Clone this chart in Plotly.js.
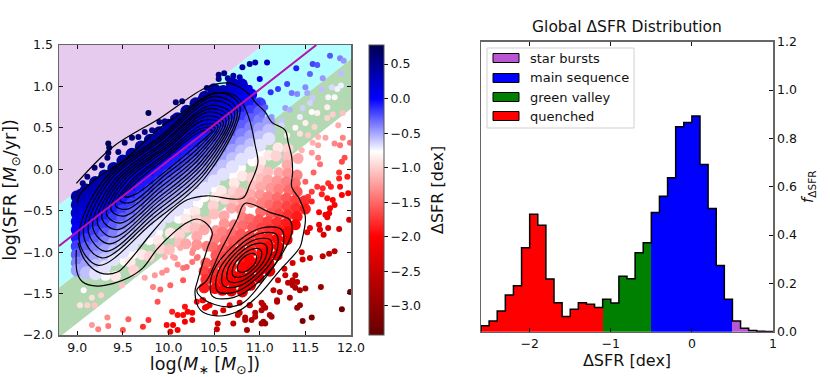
<!DOCTYPE html>
<html>
<head>
<meta charset="utf-8">
<script src="https://cdn.plot.ly/plotly-3.0.1.min.js"></script>
<style>body{margin:0;background:#fff}#plot{width:830px;height:377px}</style>
</head>
<body>
<div id="plot"></div>
<script>
const _ = null;

// region bands, log(M*) vs log(SFR)
const burstBandX = [8.8, 11.04, 8.8];
const burstBandY = [-0.43, 1.5, 1.5];
const mainBandX = [8.8, 11.04, 12, 12, 8.8];
const mainBandY = [-0.43, 1.5, 1.5, 1.33, -1.43];
const greenBandX = [8.8, 12, 12, 8.8];
const greenBandY = [-1.43, 1.33, 0.73, -2.03];
const seqLineX = [8.8, 11.62];
const seqLineY = [-0.926, 1.5];

const gridX = [9.0,9.1,9.2,9.3,9.4,9.5,9.6,9.7,9.8,9.9,10.0,10.1,10.2,10.3,10.4,10.5,10.6,10.7,10.8,10.9,11.0,11.1];
const gridD = [0.42,0.32,0.22,0.12,0.02,-0.08,-0.18,-0.28,-0.38,-0.48,-0.58,-0.68];
const gridY = [
  [-.33,-.25,-.16,-.08,.01,.10,.18,.27,.35,.44,.53,.61,.70,.79,.87,.96],
  [-.43,-.35,-.26,-.18,-.09,0,.08,.17,.25,.34,.43,.51,.60,.69,.77,.86,.94,1.03],
  [-.53,-.45,-.36,-.28,-.19,-.10,-.02,.07,.15,.24,.33,.41,.50,.59,.67,.76,.84,.93,1.02],
  [-.63,-.55,-.46,-.38,-.29,-.20,-.12,-.03,.05,.14,.23,.31,.40,.49,.57,.66,.74,.83,.92],
  [-.73,-.65,-.56,-.48,-.39,-.30,-.22,-.13,-.05,.04,.13,.21,.30,.39,.47,.56,.64,.73,.82,.90],
  [-.83,-.75,-.66,-.58,-.49,-.40,-.32,-.23,-.15,-.06,.03,.11,.20,.29,.37,.46,.54,.63,.72,.80],
  [-.93,-.85,-.76,-.68,-.59,-.50,-.42,-.33,-.25,-.16,-.07,.01,.10,.19,.27,.36,.44,.53,.62,.70,.79],
  [-1.03,-.95,-.86,-.78,-.69,-.60,-.52,-.43,-.35,-.26,-.17,-.09,0,.09,.17,.26,.34,.43,.52,.60,.69],
  [-1.13,-1.05,-.96,-.88,-.79,-.70,-.62,-.53,-.45,-.36,-.27,-.19,-.10,-.01,.07,.16,.24,.33,.42,.50,.59],
  [-1.22,-1.15,-1.06,-.98,-.89,-.80,-.72,-.63,-.55,-.46,-.37,-.29,-.20,-.11,-.03,.06,.14,.23,.32,.40,.49,.57],
  [_,-1.25,-1.16,-1.08,-.99,-.90,-.82,-.73,-.65,-.56,-.47,-.39,-.30,-.21,-.13,-.04,.04,.13,.22,.30,.39,.47],
  [_,_,-1.26,-1.18,-1.09,-1.00,-.92,-.83,-.75,-.66,-.57,-.49,-.40,-.31,-.23,-.14,-.06,.03,.12,.20,.29,.37]
];

// paler and red rows, with gaps where the reference shows them
const rowD = [-0.78,-0.88,-0.98,-1.08,-1.18,-1.28,-1.38,-1.48,-1.58,-1.68,-1.78,-1.88,-1.98,-2.08,-2.18,-2.28];
const rowX = [
  [9.31,9.52,9.61,9.79,9.88,10.11,10.21,10.32,10.39,10.52,10.71,10.79,10.92,11.02],
  [9.42,9.58,9.71,9.89,10.02,10.19,10.29,10.51,10.58,10.72,10.81,11.01,11.1,11.2],
  [9.62,9.79,9.91,10.12,10.2,10.31,10.49,10.62,10.71,10.91,11.0,11.18,11.31],
  [10.01,10.12,10.29,10.41,10.5,10.72,10.79,10.92,11.02,11.09,11.31],
  [10.19,10.31,10.39,10.61,10.69,10.82,10.9,11.01,11.09,11.21,11.3,11.42],
  [10.31,10.52,10.61,10.79,10.91,11.0,11.12,11.19,11.31],
  [10.42,10.51,10.59,10.72,10.81,11.02,11.09,11.21,11.29,11.41],
  [10.49,10.62,10.69,10.81,10.89,11.01,11.11,11.19,11.32,11.39],
  [10.41,10.52,10.59,10.71,10.79,10.92,10.99,11.12,11.2,11.29,11.41],
  [10.39,10.51,10.62,10.69,10.81,10.89,11.02,11.09,11.21,11.3,11.39],
  [10.41,10.49,10.61,10.71,10.79,10.91,11.0,11.11,11.19,11.31,11.4,11.49],
  [10.39,10.52,10.59,10.69,10.82,10.9,11.01,11.09,11.21,11.29,11.41,11.5],
  [10.51,10.61,10.69,10.81,10.89,11.02,11.1,11.19,11.31,11.39],
  [10.59,10.71,10.79,10.91,11.0,11.09,11.21,11.3],
  [10.69,10.81,10.89,11.01,11.1,11.19],
  [10.81,10.9,10.99,11.11]
];
const rowY = [
  [-1.28,-1.10,-1.02,-.85,-.76,-.59,-.50,-.41,-.33,-.24,-.07,.02,.10,.19],
  [-1.29,-1.12,-1.03,-.86,-.77,-.60,-.51,-.34,-.26,-.17,-.08,.09,.17,.26],
  [-1.22,-1.05,-.96,-.79,-.70,-.61,-.44,-.36,-.27,-.10,-.01,.16,.25],
  [-.97,-.89,-.71,-.63,-.54,-.37,-.28,-.20,-.11,-.03,.15],
  [-.90,-.81,-.73,-.56,-.47,-.38,-.30,-.21,-.13,-.04,.05,.13],
  [-.91,-.74,-.66,-.48,-.40,-.31,-.23,-.14,-.05],
  [-.93,-.84,-.76,-.67,-.58,-.41,-.33,-.24,-.15,-.07],
  [-.94,-.86,-.77,-.68,-.60,-.51,-.43,-.34,-.25,-.17],
  [-1.13,-1.04,-.96,-.87,-.78,-.70,-.61,-.53,-.44,-.35,-.27],
  [-1.23,-1.14,-1.06,-.97,-.88,-.80,-.71,-.63,-.54,-.45,-.37],
  [-1.33,-1.24,-1.16,-1.07,-.98,-.90,-.81,-.73,-.64,-.55,-.47,-.38],
  [-1.43,-1.34,-1.26,-1.17,-1.08,-1.00,-.91,-.83,-.74,-.65,-.57,-.48],
  [-1.44,-1.36,-1.27,-1.18,-1.10,-1.01,-.93,-.84,-.75,-.67],
  [-1.46,-1.37,-1.28,-1.20,-1.11,-1.03,-.94,-.85],
  [-1.47,-1.38,-1.30,-1.21,-1.13,-1.04],
  [-1.48,-1.40,-1.31,-1.23]
];

// single galaxies that can be told apart
const pointX = [9.78,10.08,10.15,9.34,9.35,9.34,9.33,9.27,9.19,9.11,9.06,9.03,9.45,9.52,9.60,9.67,9.74,9.82,9.90,9.96,10.05,10.29,10.35,10.42,10.55,10.61,10.55,10.54,10.71,10.78,10.81,10.65,10.78,10.89,10.71,
  10.89,10.95,11.08,11.0,11.40,11.58,11.63,11.77,11.88,11.92,11.55,11.69,11.89,10.88,11.12,11.2,11.30,11.35,11.41,11.50,11.52,11.68,11.79,11.89,11.85,11.75,11.82,11.58,11.55,11.47,11.28,11.33,11.06,10.98,11.02,11.13,11.24,11.44,11.63,11.57,11.74,11.74,11.8,11.91,11.5,11.6,11.39,11.24,11.3,11.44,11.53,11.64,11.86,11.72,11.91,11.58,11.82,
  11.88,11.99,11.46,11.57,11.64,11.64,11.66,11.9,11.93,11.59,11.87,11.96,11.87,11.75,11.78,11.88,11.50,11.63,11.57,11.69,11.68,11.9,11.97,11.53,11.74,11.8,11.57,11.82,11.77,11.65,11.72,11.74,11.98,11.55,11.65,11.75,11.87,11.52,11.7,
  11.67,11.99,11.9,11.57,11.47,11.44,11.41,11.5,11.39,11.36,11.39,11.33,11.22,11.15,11.19,11.13,11.04,11.04,10.95,10.84,10.71,10.54,10.53,10.86,11.06,11.02,10.89,10.78,11.36,11.27,11.46,11.47,11.55,11.69,11.76,11.82,11.2,11.44,11.36,11.66,11.76,
  10.18,10.16,10.21,10.10,10.26,10.18,10.05,9.98,10.10,10.02,9.72,10.42,10.40,10.45,10.37,10.31,10.38,10.26,10.51,10.60,10.67,10.78,10.89,11.02,11.06,10.95,10.76,10.84,10.91,11.02,11.11,11.19,11.31,11.41,11.28,
  9.83,9.91,10.02,10.07,10.16,10.26,9.74,10.16,10.27,10.32,9.07,9.16,9.26,9.03,9.11,9.19,9.16,9.23,9.33,9.34,9.50,9.56,9.78,9.85,9.93,9.98,9.88,10.04,10.10,10.2,10.05,10.13,10.26,10.31,9.96,9.49];
const pointY = [.68,.81,.82,.31,.26,.20,.14,.05,.02,-.09,-.17,-.27,.21,.32,.38,.39,.45,.47,.57,.58,.62,.80,.85,.98,1.14,1.16,1.09,.96,1.13,1.11,1.23,1.10,.92,.98,.90,
  1.27,1.29,1.29,1.09,1.22,1.27,1.26,1.37,1.34,1.31,1.15,1.10,1.16,.98,.93,.97,1.03,.92,.91,.99,.92,.97,.99,1.01,.97,.87,.87,.86,.80,.74,.74,.72,.75,.81,.66,.63,.59,.63,.68,.69,.75,.62,.66,.68,.56,.51,.50,.53,.41,.43,.41,.39,.53,.38,.38,.32,.31,
  .29,.32,.23,.20,.29,.14,.06,.09,.14,-.04,-.04,-.09,-.11,-.17,-.21,-.21,-.15,-.21,-.27,-.23,-.30,-.31,-.29,-.33,-.35,-.37,-.39,-.43,-.47,-.52,-.55,-.58,-.61,-.71,-.67,-.71,-.72,-.76,-.79,
  -1.42,-1.48,-1.69,-1.79,-1.83,-1.64,-1.67,-1.44,-1.43,-1.34,-1.28,-1.55,-1.48,-1.46,-1.60,-1.78,-1.64,-1.84,-1.78,-1.82,-1.86,-1.86,-1.93,-1.94,-1.86,-1.70,-1.64,-1.73,-1.13,-1.20,-1.00,-1.09,-1.07,-1.05,-1.02,-.99,-1.34,-1.46,-1.40,-.73,-.53,
  -1.66,-1.76,-1.72,-1.76,-1.82,-1.84,-1.88,-1.88,-1.94,-1.96,-1.90,-1.66,-1.67,-1.64,-1.58,-1.60,-1.58,-1.73,-1.73,-1.70,-1.64,-1.61,-1.64,-1.61,-1.67,-1.73,-1.76,-1.79,-1.82,-1.86,-1.76,-1.58,-1.37,-1.36,-1.28,
  -1.42,-1.45,-1.40,-1.07,-1.19,-1.12,-1.31,-1.34,-.97,-1.06,-1.46,-1.55,-1.52,-1.64,-1.64,-1.64,-1.88,-1.93,-1.79,-1.89,-1.94,-1.81,-1.82,-1.28,-1.25,-1.22,-1.60,-1.72,-1.15,-1.18,-1.06,-.95,-1.01,-1.07,-1.06,-1.40];
const pointD = [.75,.63,.58,.75,.71,.66,.62,.57,.60,.57,.53,.46,.58,.63,.62,.57,.57,.52,.55,.51,.47,.44,.44,.51,.56,.53,.51,.39,.41,.33,.43,.43,.14,.10,.18,
  .40,.36,.25,.12,-.09,-.20,-.25,-.26,-.39,-.45,-.29,-.46,-.57,.12,-.14,-.17,-.20,-.35,-.41,-.41,-.50,-.58,-.66,-.72,-.73,-.74,-.80,-.61,-.64,-.63,-.47,-.53,-.27,-.14,-.33,-.45,-.59,-.72,-.83,-.77,-.85,-.98,-1.0,-1.07,-.84,-.98,-.80,-.65,-.82,-.92,-1.02,-1.13,-1.18,-1.21,-1.37,-1.15,-1.36,
  -1.44,-1.50,-1.13,-1.26,-1.23,-1.38,-1.48,-1.65,-1.63,-1.52,-1.76,-1.88,-1.83,-1.78,-1.85,-1.94,-1.55,-1.72,-1.73,-1.79,-1.85,-2.05,-2.09,-1.75,-1.95,-2.03,-1.85,-2.10,-2.10,-2.05,-2.14,-2.18,-2.42,-2.15,-2.20,-2.32,-2.44,-2.18,-2.36,
  -2.96,-3.30,-3.40,-3.25,-3.20,-2.99,-2.99,-2.84,-2.73,-2.62,-2.58,-2.80,-2.64,-2.56,-2.73,-2.86,-2.64,-2.84,-2.71,-2.65,-2.58,-2.43,-2.49,-2.79,-2.88,-2.69,-2.51,-2.51,-2.41,-2.40,-2.37,-2.46,-2.51,-2.61,-2.64,-2.66,-2.48,-2.81,-2.68,-2.27,-2.15,
  -1.92,-2.00,-2.01,-1.95,-2.15,-2.10,-2.03,-1.97,-2.13,-2.08,-1.77,-2.13,-2.12,-2.13,-2.01,-1.97,-2.01,-2.06,-2.28,-2.32,-2.32,-2.39,-2.51,-2.60,-2.69,-2.66,-2.52,-2.62,-2.71,-2.85,-2.82,-2.71,-2.61,-2.68,-2.49,
  -1.38,-1.48,-1.52,-1.24,-1.43,-1.45,-1.19,-1.58,-1.31,-1.44,-.77,-.93,-.99,-.91,-.98,-1.05,-1.26,-1.38,-1.32,-1.43,-1.62,-1.54,-1.74,-1.26,-1.30,-1.31,-1.60,-1.86,-1.34,-1.46,-1.21,-1.17,-1.34,-1.44,-1.13,-1.07];

// nested density contours over the main sequence, innermost first
const seqContourX = [
  [9.52,9.64,9.95,10.29,10.48,10.34,10.0,9.66,9.52],
  [9.47,9.59,9.94,10.30,10.51,10.35,9.99,9.63,9.47],
  [9.42,9.55,9.92,10.32,10.54,10.37,9.98,9.59,9.42],
  [9.37,9.51,9.91,10.33,10.57,10.39,9.97,9.55,9.37],
  [9.32,9.47,9.90,10.34,10.60,10.41,9.96,9.51,9.32],
  [9.27,9.43,9.88,10.36,10.63,10.43,9.95,9.47,9.27],
  [9.22,9.39,9.87,10.37,10.66,10.44,9.94,9.44,9.22],
  [9.17,9.35,9.85,10.39,10.69,10.46,9.93,9.40,9.17],
  [9.12,9.31,9.84,10.40,10.72,10.48,9.92,9.36,9.12],
  [9.07,9.27,9.83,10.41,10.75,10.50,9.91,9.32,9.07],
  [9.02,9.23,9.81,10.43,10.78,10.52,9.90,9.28,9.02]
];
const seqContourY = [
  [-.33,-.30,-.04,.27,.47,.45,.16,-.14,-.33],
  [-.38,-.40,-.09,.23,.50,.49,.18,-.13,-.38],
  [-.44,-.48,-.16,.20,.52,.535,.20,-.14,-.44],
  [-.485,-.565,-.22,.166,.55,.593,.231,-.13,-.485],
  [-.54,-.65,-.28,.13,.57,.64,.25,-.135,-.54],
  [-.59,-.73,-.35,.10,.60,.69,.27,-.14,-.59],
  [-.645,-.82,-.405,.066,.63,.73,.295,-.135,-.645],
  [-.70,-.90,-.47,.04,.66,.77,.317,-.14,-.70],
  [-.745,-.99,-.53,0,.70,.83,.35,-.135,-.745],
  [-.80,-1.07,-.59,-.035,.72,.88,.37,-.14,-.80],
  [-.85,-1.16,-.66,-.06,.77,.925,.39,-.14,-.85]
];
// second level, open at the left edge
const secondX = [9.01,9.08,9.25,9.44,9.58,9.80,10.02,10.20,10.42,10.81,10.89,10.98,10.95,10.89,10.81,10.71,10.53,10.35,10.16,9.94,9.5,9.2,9.03,9.0];
const secondY = [-.89,-1.09,-1.25,-1.24,-1.09,-.79,-.52,-.37,-.32,-.35,-.19,.08,.29,.59,.80,.90,.92,.84,.69,.53,.10,-.12,-.30,-.40];
// outermost level, runs round both peaks
const outerX = [8.99,9.39,9.91,10.42,10.67,10.78,10.89,10.95,11.06,11.13,11.28,11.31,11.35,11.36,11.35,11.44,11.5,11.47,11.44,11.22,10.97,10.75,10.53,10.35,10.29,10.32,10.43,10.48,10.40,10.31,10.21,10.05,9.87,9.72,9.56,9.39,9.22,9.06,9.0,8.99];
const outerY = [-.17,.27,.62,.99,1.04,.99,.90,.81,.69,.57,.47,.33,.15,-.04,-.21,-.37,-.58,-.82,-.94,-1.22,-1.54,-1.72,-1.77,-1.70,-1.49,-1.34,-.94,-.77,-.64,-.60,-.64,-.77,-.97,-1.19,-1.31,-1.38,-1.41,-1.36,-1.25,-.97];
// contours round the quenched peak, outermost first
const redContourX = [
  [10.84,11.11,11.33,11.35,11.25,11.04,10.82,10.64,10.40,10.31,10.42,10.56,10.75,10.84],
  [11.239,11.245,11.026,10.709,10.481,10.475,10.694,11.011,11.239],
  [11.183,11.184,10.996,10.728,10.537,10.536,10.724,10.992,11.183],
  [11.12,11.124,10.973,10.756,10.60,10.596,10.747,10.964,11.12],
  [11.065,11.069,10.951,10.779,10.655,10.651,10.769,10.941,11.065],
  [11.01,11.014,10.928,10.802,10.71,10.706,10.792,10.918,11.01],
  [10.955,10.962,10.909,10.828,10.765,10.758,10.811,10.892,10.955]
];
const redContourY = [
  [-.41,-.52,-.61,-.77,-1.01,-1.34,-1.61,-1.66,-1.58,-1.46,-1.34,-1.01,-.61,-.41],
  [-.73,-.982,-1.321,-1.548,-1.53,-1.278,-.939,-.712,-.73],
  [-.788,-.998,-1.286,-1.482,-1.472,-1.262,-.974,-.778,-.788],
  [-.855,-1.028,-1.26,-1.416,-1.405,-1.232,-1.0,-.844,-.855],
  [-.913,-1.051,-1.234,-1.357,-1.347,-1.209,-1.026,-.903,-.913],
  [-.972,-1.073,-1.208,-1.297,-1.288,-1.187,-1.052,-.963,-.972],
  [-1.03,-1.10,-1.186,-1.241,-1.23,-1.161,-1.074,-1.019,-1.03]
];

// histogram, left bin edges and heights
const quenchedEdges = [-2.6,-2.5,-2.4,-2.3,-2.2,-2.1,-2.0,-1.9,-1.8,-1.7,-1.6,-1.5,-1.4,-1.3,-1.2];
const quenchedVals = [.025,.044,.086,.152,.19,.347,.486,.441,.218,.12,.063,.093,.12,.114,.10];
const greenEdges = [-1.1,-1.0,-.9,-.8,-.7,-.6];
const greenVals = [.134,.119,.229,.219,.327,.368];
const mainEdges = [-.5,-.4,-.3,-.2,-.1,0,.1,.2,.3,.4];
const mainVals = [.493,.56,.637,.848,.866,.893,.692,.51,.274,.134];
const burstEdges = [.5,.6,.7,.8,.9];
const burstVals = [.044,.014,.005,.002,.001];

const legendNames = ['star bursts','main sequence','green valley','quenched'];
const legendColors = ['#ba55d3','#0000ff','#008000','#ff0000'];
const legendRows = [58,78,97,116];

const W = 830, H = 377;
var traces = [];

function band(x, y, color){
  return {x:x, y:y, xaxis:'x', yaxis:'y', mode:'lines', fill:'toself', fillcolor:color, line:{width:0}, hoverinfo:'skip'};
}
traces.push(band(burstBandX, burstBandY, '#e6cbee'));
traces.push(band(mainBandX, mainBandY, '#b3ffff'));
traces.push(band(greenBandX, greenBandY, '#b3d9b3'));

function cloud(x, y, d, size){
  return {x:x, y:y, xaxis:'x', yaxis:'y', mode:'markers', hoverinfo:'skip',
    marker:{size:size, color:d, coloraxis:'coloraxis', line:{width:0}}};
}
var rx = [], ry = [], rd = [];
rowY.forEach(function(row, i){
  row.forEach(function(v, j){ rx.push(rowX[i][j]); ry.push(v); rd.push(rowD[i]); });
});
traces.push(cloud(rx, ry, rd, 11));
var gx = [], gy = [], gd = [];
gridY.forEach(function(row, i){
  row.forEach(function(v, j){ gx.push(gridX[j]); gy.push(v); gd.push(gridD[i]); });
});
traces.push(cloud(gx, gy, gd, 13));
traces.push(cloud(pointX, pointY, pointD, 6));

function contour(x, y){
  return {x:x, y:y, xaxis:'x', yaxis:'y', mode:'lines', hoverinfo:'skip',
    line:{color:'#000', width:1.2, shape:'spline', smoothing:1}};
}
seqContourX.forEach(function(x, i){ traces.push(contour(x, seqContourY[i])); });
redContourX.forEach(function(x, i){ traces.push(contour(x, redContourY[i])); });
traces.push(contour(secondX, secondY));
traces.push(contour(outerX, outerY));
traces.push({x:seqLineX, y:seqLineY, xaxis:'x', yaxis:'y', mode:'lines', hoverinfo:'skip', line:{color:'#b80fb0', width:2}});

function bars(edges, vals, color){
  return {type:'bar', x:edges, y:vals, xaxis:'x2', yaxis:'y2', width:0.1, offset:0,
    marker:{color:color, line:{width:0}}, hoverinfo:'skip'};
}
traces.push(bars(quenchedEdges, quenchedVals, legendColors[3]));
traces.push(bars(greenEdges, greenVals, legendColors[2]));
traces.push(bars(mainEdges, mainVals, legendColors[1]));
traces.push(bars(burstEdges, burstVals, legendColors[0]));

// black step outline over the bars
var allEdges = quenchedEdges.concat(greenEdges, mainEdges, burstEdges);
var allVals = quenchedVals.concat(greenVals, mainVals, burstVals);
traces.push({x:[-2.6].concat(allEdges, [1.0]), y:[0].concat(allVals, [0]), xaxis:'x2', yaxis:'y2',
  mode:'lines', hoverinfo:'skip', line:{color:'#000', width:1.5, shape:'hv'}, cliponaxis:true});

var shapes = [{type:'rect', xref:'paper', yref:'paper', layer:'above',
  x0:487/W, x1:634/W, y0:1-128/H, y1:1-48/H, fillcolor:'rgba(255,255,255,0.85)', line:{color:'#d0d0d0', width:1}}];
var annotations = [{xref:'paper', yref:'paper', x:437/W, y:1-190/H, xanchor:'center', yanchor:'middle',
  showarrow:false, textangle:-90, text:'ΔSFR [dex]', font:{size:16, color:'#111'}}];
legendNames.forEach(function(name, i){
  var r = legendRows[i];
  shapes.push({type:'rect', xref:'paper', yref:'paper', layer:'above',
    x0:493/W, x1:519/W, y0:1-(r+4.5)/H, y1:1-(r-4.5)/H, fillcolor:legendColors[i], line:{color:'#000', width:1}});
  annotations.push({xref:'paper', yref:'paper', x:528/W, y:1-r/H, xanchor:'left', yanchor:'middle',
    showarrow:false, text:name, font:{size:13, color:'#111'}});
});

var axisLine = {showline:true, linecolor:'#666', linewidth:1.5, showgrid:false, zeroline:false,
  ticks:'inside', ticklen:4, tickwidth:1, tickcolor:'#111', tickfont:{size:12.5, color:'#111'}};

var layout = {
  width:W, height:H, margin:{l:0, r:0, t:0, b:0}, showlegend:false, hovermode:false,
  paper_bgcolor:'#fff', plot_bgcolor:'#fff', barmode:'overlay', bargap:0,
  font:{family:'"DejaVu Sans", sans-serif', color:'#111'},
  title:{text:'Global ΔSFR Distribution', x:627/W, xanchor:'center', y:1-27/H, yanchor:'middle', font:{size:15.5, color:'#111'}},
  coloraxis:{cmin:-3.42, cmax:0.775,
    colorscale:[[0,'#650000'],[0.3385,'#ff0000'],[0.632,'#ffffff'],[0.815,'#0000ff'],[1,'#000050']],
    colorbar:{x:369/W, xanchor:'left', y:1-335/H, yanchor:'bottom', len:290/H, lenmode:'fraction',
      thickness:15, thicknessmode:'pixels', xpad:0, ypad:0, outlinecolor:'#555', outlinewidth:1,
      tickvals:[0.5,0,-0.5,-1,-1.5,-2,-2.5,-3], tickformat:'.1f', ticks:'outside', ticklen:4, tickcolor:'#111',
      tickfont:{size:12.5, color:'#111'}}},
  xaxis:Object.assign({}, axisLine, {domain:[59/W,351/W], range:[8.8,12], anchor:'y', mirror:'ticks',
    tickvals:[9,9.5,10,10.5,11,11.5,12], tickformat:'.1f',
    title:{text:'log(<i>M</i><sub>∗</sub> [<i>M</i><sub>⊙</sub>])', font:{size:17.5, color:'#111'}, standoff:3}}),
  yaxis:Object.assign({}, axisLine, {domain:[1-335/H,1-45/H], range:[-2,1.5], anchor:'x', mirror:'ticks',
    ticklabelstandoff:2,
    tickvals:[-2,-1.5,-1,-0.5,0,0.5,1,1.5], tickformat:'.1f',
    title:{text:'log(SFR [<i>M</i><sub>⊙</sub>/yr])', font:{size:17.5, color:'#111'}, standoff:2}}),
  xaxis2:Object.assign({}, axisLine, {domain:[481/W,773/W], range:[-2.6,1], anchor:'y2', mirror:'ticks',
    tickvals:[-2,-1,0,1], tickformat:'d',
    title:{text:'ΔSFR [dex]', font:{size:16, color:'#111'}, standoff:3}}),
  yaxis2:Object.assign({}, axisLine, {domain:[1-331.7/H,1-41.7/H], range:[0,1.2], anchor:'x2', side:'right', mirror:true,
    tickvals:[0,0.2,0.4,0.6,0.8,1,1.2], tickformat:'.1f',
    title:{text:'<i>f</i><sub>ΔSFR</sub>', font:{size:15, color:'#111'}, standoff:6}}),
  shapes:shapes, annotations:annotations
};

Plotly.newPlot('plot', traces, layout, {displayModeBar:false, staticPlot:true});
</script>
</body>
</html>
